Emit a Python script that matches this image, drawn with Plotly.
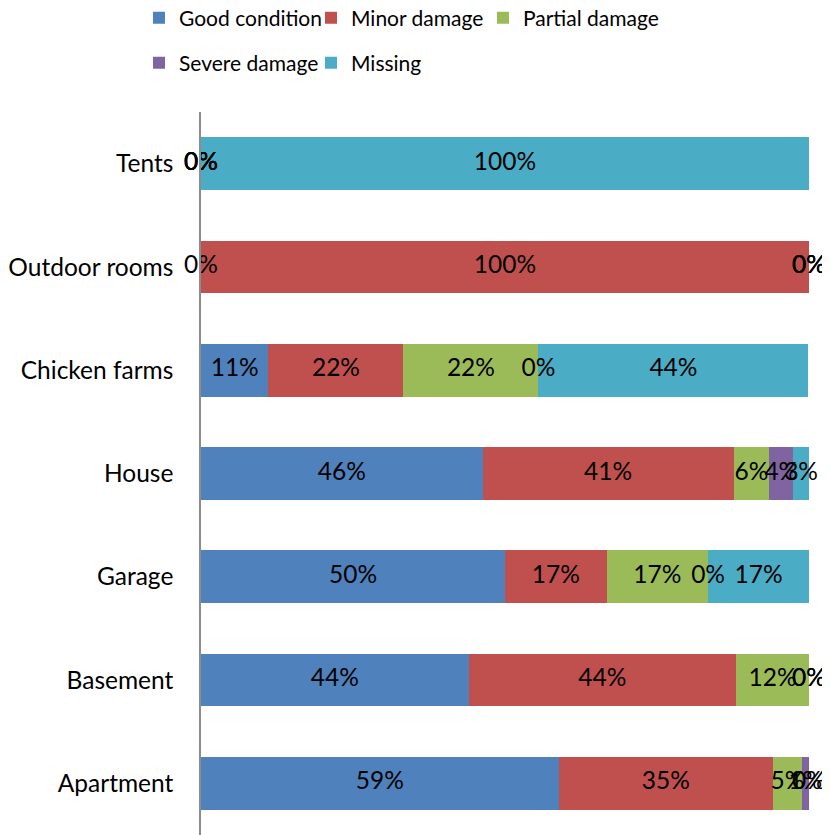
import plotly.graph_objects as go

# categories bottom -> top, as drawn
categories = ["Apartment", "Basement", "Garage", "House", "Chicken farms", "Outdoor rooms", "Tents"]

# share of each condition in %
good_condition = [58.8, 44.0, 50.0, 46.3, 11.1, 0.0, 0.0]
minor_damage = [35.3, 44.0, 16.7, 41.3, 22.2, 100.0, 0.0]
partial_damage = [4.7, 12.0, 16.7, 5.9, 22.2, 0.0, 0.0]
severe_damage = [1.2, 0.0, 0.0, 3.9, 0.0, 0.0, 0.0]
missing = [0.0, 0.0, 16.6, 2.6, 44.4, 0.0, 100.0]

series_names = ["Good condition", "Minor damage", "Partial damage", "Severe damage", "Missing"]
series_values = [good_condition, minor_damage, partial_damage, severe_damage, missing]
series_colors = ["#4F81BD", "#C0504D", "#9BBB59", "#8064A2", "#4BACC6"]

font_name = "Lato"

# the html page has an 8px body margin, so the figure is a bit smaller than the window
W, H = 822, 827

fig = go.Figure()

# stacked bars, each one with its own legend box so the 3 + 2 layout lines up like the original
legend_ids = ["legend", "legend2", "legend3", "legend4", "legend5"]
for name, vals, col, lg in zip(series_names, series_values, series_colors, legend_ids):
    fig.add_trace(go.Bar(
        y=categories, x=vals, name=name, orientation="h",
        marker=dict(color=col, line=dict(width=0)),
        legend=lg, hoverinfo="skip",
    ))

# data labels in the middle of each segment (zero segments sit on the boundary, like Excel)
base = [0.0] * len(categories)
for vals in series_values:
    mids = [b + v / 2 for b, v in zip(base, vals)]
    fig.add_trace(go.Scatter(
        y=categories, x=mids, mode="text",
        text=[f"{round(v + 1e-9):.0f}%" for v in vals],
        textfont=dict(family=font_name, size=24.5, color="#000000"),
        showlegend=False, hoverinfo="skip", cliponaxis=False,
    ))
    base = [b + v for b, v in zip(base, vals)]

legend_style = dict(orientation="h", xref="container", yref="container",
                    xanchor="left", yanchor="middle",
                    font=dict(family=font_name, size=21, color="#000000"),
                    bgcolor="rgba(0,0,0,0)")

# legend slots: 3 on the first row, 2 on the second
legend_x = [131, 303, 475, 131, 303]
legend_y = [10, 10, 10, 55, 55]
legends = {lg: dict(x=x / W, y=1 - y / H, **legend_style)
           for lg, x, y in zip(legend_ids, legend_x, legend_y)}

fig.update_layout(
    width=W, height=H,
    barmode="stack", bargap=0.49,
    plot_bgcolor="white", paper_bgcolor="white",
    margin=dict(l=193, r=21, t=104, b=0, autoexpand=False),
    font=dict(family=font_name, size=22, color="#000000"),
    **legends,
)

fig.update_xaxes(range=[0, 100], showgrid=False, zeroline=False, showticklabels=False,
                 showline=False, fixedrange=True, automargin=False)
fig.update_yaxes(showgrid=False, zeroline=False, showline=True, linecolor="#8C8C8C",
                 linewidth=1.5, ticks="", ticklabelstandoff=21, automargin=False,
                 tickfont=dict(family=font_name, size=24.5, color="#000000"))

fig.write_html("out.html")
